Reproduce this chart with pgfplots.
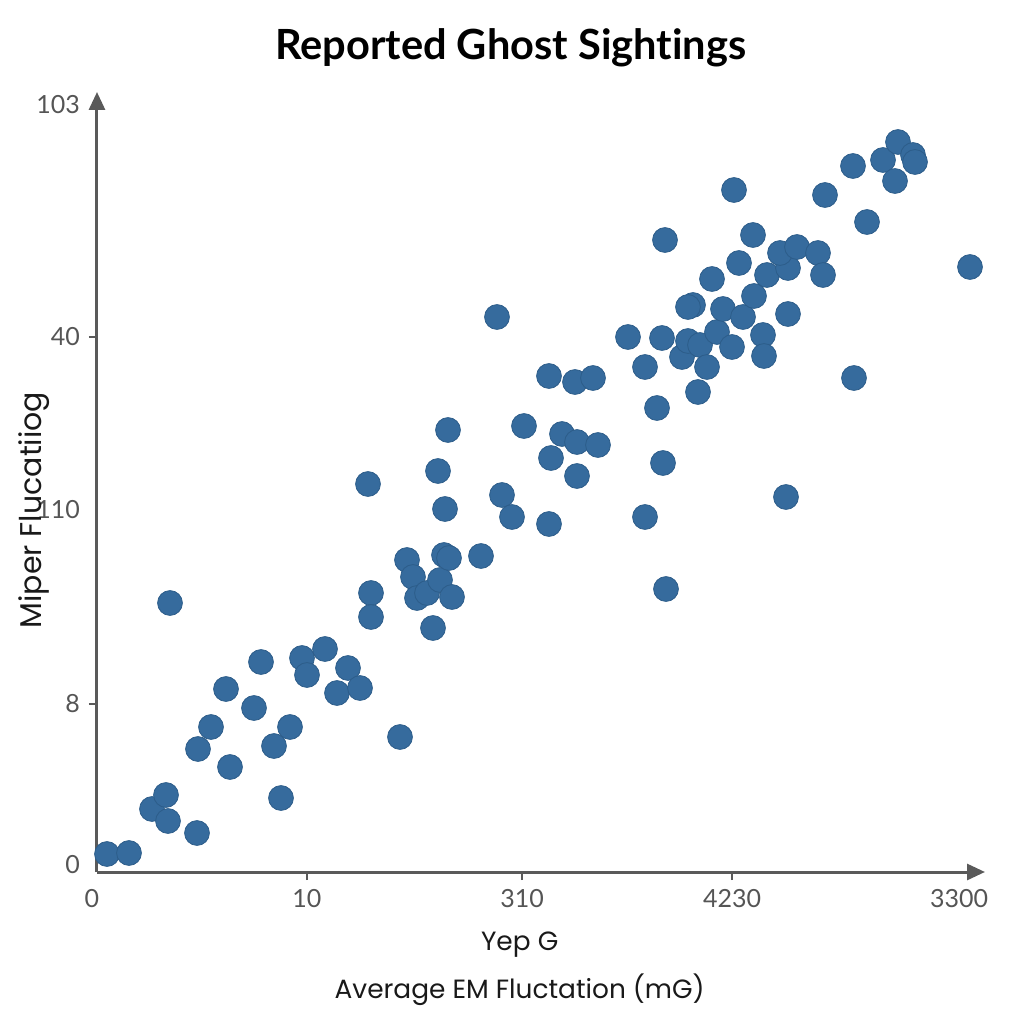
\documentclass[border=0pt]{standalone}
\usepackage{pgfplots}
\pgfplotsset{compat=1.18}
\usepackage{fontspec}
\setmainfont{Lato}[Ligatures=CommonOff]
\newfontfamily\titlefont{Poppins}
\usetikzlibrary{arrows.meta}
\definecolor{dotblue}{HTML}{366B9D}
\definecolor{dotedge}{HTML}{2D5D8A}
\definecolor{axisgrey}{HTML}{5A5A5A}
\definecolor{ticktext}{HTML}{555555}
\begin{document}
\begin{tikzpicture}
\useasboundingbox (-48.5pt,-76pt) rectangle (463.5pt,436pt);
\begin{axis}[
  x=0.5pt, y=0.5pt,
  xmin=97, xmax=985, ymin=152, ymax=932,
  axis lines=left,
  axis line style={axisgrey, line width=1.5pt, -{Triangle[length=9pt,width=8pt]}},
  clip=false,
  tick align=outside,
  major tick length=4pt,
  tick style={axisgrey, line width=1pt},
  xtick={307,522,732},
  xticklabels={10,310,4230},
  ytick={320,687},
  yticklabels={8,40},
  extra x ticks={97,964},
  extra x tick labels={0,3300},
  extra x tick style={major tick length=0pt, xticklabel style={xshift=-2.5pt, yshift=-4pt}},
  extra y ticks={159,514,919},
  extra y tick labels={0,110,103},
  extra y tick style={major tick length=0pt, yticklabel style={xshift=-4pt}},
  /pgf/number format/assume math mode=true,
  ticklabel style={font=\fontsize{12.5}{15}\selectfont, text=ticktext},
  xticklabel style={yshift=-1pt},
  yticklabel style={xshift=-1pt},
  title={\bfseries Reported Ghost Sightings},
  title style={at={(axis description cs:0.466,1.041)}, anchor=center, font=\fontsize{20.8}{24}\selectfont},
  xlabel={Yep G\\[8pt]Average EM Fluctation (mG)},
  xlabel style={at={(axis description cs:0.476,-0.124)}, anchor=center, align=center, font=\titlefont\fontsize{13.2}{16}\selectfont, text=black!90},
  ylabel={Miper Flucatiiog},
  ylabel style={at={(axis description cs:-0.071,0.464)}, anchor=center, rotate=0, font=\titlefont\fontsize{15}{18}\selectfont, text=black!90},
]
\addplot[only marks, mark=*, mark size=6.2pt, mark options={fill=dotblue, draw=dotedge, line width=0.4pt}] coordinates {
(107,170) (129,171) (152,215) (166,229) (168,203) (197,191) (198,275) (211,297)
(230,257) (254,316) (274,278) (290,297) (281,226) (400,287) (170,421) (261,362)
(226,335) (302,366) (307,349) (325,375) (337,331) (348,356) (360,336) (371,431)
(371,407) (368,540) (407,464) (413,447) (417,426) (427,431) (440,444) (444,469)
(449,466) (452,427) (433,396) (481,468) (438,553) (445,515) (448,594) (502,529)
(512,507) (549,500) (497,707) (524,598) (551,566) (562,590) (577,582) (598,579)
(577,548) (549,648) (575,642) (593,646) (645,507) (666,435) (663,561) (657,616)
(645,657) (628,687) (662,686) (682,667) (688,683) (700,679) (698,632) (707,657)
(717,692) (732,677) (763,689) (764,668) (693,719) (688,717) (723,715) (743,707)
(754,728) (788,710) (712,745) (739,761) (767,749) (788,756) (780,771) (797,777)
(818,771) (823,749) (753,789) (665,784) (734,834) (825,829) (853,858) (883,864)
(898,882) (913,869) (915,862) (895,843) (867,802) (970,757) (854,646) (786,527)
};
\end{axis}
\end{tikzpicture}
\end{document}
